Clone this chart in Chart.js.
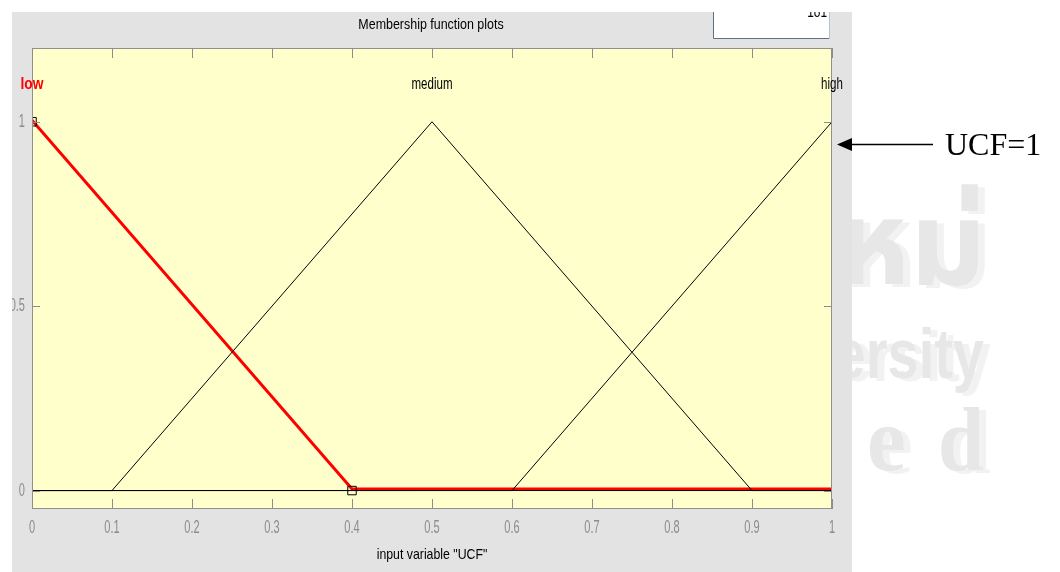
<!DOCTYPE html>
<html>
<head>
<meta charset="utf-8">
<script src="https://cdn.jsdelivr.net/npm/chart.js@4.4.1/dist/chart.umd.min.js"></script>
<style>
  html, body { margin: 0; padding: 0; background: #ffffff; overflow: hidden; }
  #wrap { width: 1060px; height: 572px; position: relative; }
</style>
</head>
<body>
<div id="wrap"><canvas id="c" width="1060" height="572"></canvas></div>
<script>
// Membership functions of the input variable "UCF"
const mfNames = ['low', 'medium', 'high'];
const mfPeaks = [0, 0.5, 1];
const lowX = [0, 0.4, 1];
const lowY = [1, 0, 0];
const mediumX = [0, 0.1, 0.5, 0.9, 1];
const mediumY = [0, 0, 1, 0, 0];
const highX = [0, 0.6, 1];
const highY = [0, 0, 1];
// zero reference line across the range
const baseX = [0, 1];
const baseY = [0, 0];
// vertex handles of the selected function ("low")
const handleX = [0, 0.4];
const handleY = [1, 0];

const xTicks = [0, 0.1, 0.2, 0.3, 0.4, 0.5, 0.6, 0.7, 0.8, 0.9, 1];
const xTickLabels = ['0', '0.1', '0.2', '0.3', '0.4', '0.5', '0.6', '0.7', '0.8', '0.9', '1'];
const yTicks = [0, 0.5, 1];
const yTickLabels = ['0', '0.5', '1'];

const chartTitle = 'Membership function plots';
const axisTitle = 'input variable "UCF"';
const plotPoints = '181';
const noteText = 'UCF=1';
const noteLevel = 0.94;

const UI_FONT = '"Liberation Sans", Arial, sans-serif';
const PANEL = '#e3e3e3';
const AXES_BG = '#ffffcc';
const TICK_GRAY = '#8c8c8c';
const TICK_SQUEEZE = 0.58;
const TEXT_SQUEEZE = 0.82;

const zip = (xs, ys) => xs.map((x, i) => ({ x: x, y: ys[i] }));
const rawFillText = CanvasRenderingContext2D.prototype.fillText;

// text drawn with a horizontal squeeze around its anchor (narrow UI lettering)
function narrowText(ctx, text, x, y, sx) {
  ctx.save();
  ctx.translate(x, y);
  ctx.scale(sx, 1);
  rawFillText.call(ctx, text, 0, 0);
  ctx.restore();
}

const backdrop = {
  id: 'backdrop',
  beforeDraw(chart) {
    const ctx = chart.ctx;
    const a = chart.chartArea;
    ctx.save();
    ctx.fillStyle = '#ffffff';
    ctx.fillRect(0, 0, chart.width, chart.height);

    // faint watermark lettering to the right of the window
    ctx.textBaseline = 'alphabetic';
    const wm = (txt, font, x, y, align, sx) => {
      ctx.font = font;
      ctx.textAlign = align;
      ctx.fillStyle = '#f2f2f2';
      narrowText(ctx, txt, x + 7, y + 3, sx);
      ctx.fillStyle = '#e7e7e7';
      narrowText(ctx, txt, x, y, sx);
    };
    wm('ใหม่', 'bold 118px "Noto Sans Thai", "Loma", "Garuda", "Norasi", "Tlwg Typo", sans-serif', 986, 284, 'right', 1);
    wm('ersity', 'bold 70px "Liberation Sans", Arial, sans-serif', 984, 378, 'right', 0.8);
    wm('e', 'bold 92px "Liberation Serif", "Times New Roman", serif', 867, 470, 'left', 0.95);
    wm('d', 'bold 92px "Liberation Serif", "Times New Roman", serif', 938, 470, 'left', 0.9);

    // window panel and axes background
    ctx.fillStyle = PANEL;
    ctx.fillRect(12, 12, 840, chart.height - 12);
    ctx.fillStyle = AXES_BG;
    ctx.fillRect(a.left, a.top, a.right - a.left, a.bottom - a.top);

    // plot-points edit box
    ctx.fillStyle = '#ffffff';
    ctx.fillRect(713, 12, 117, 27);
    ctx.fillStyle = '#000000';
    ctx.font = '17px ' + UI_FONT;
    ctx.textAlign = 'right';
    narrowText(ctx, plotPoints, 827, 17, 0.7);
    ctx.lineWidth = 1;
    ctx.strokeStyle = '#b4c3d2';
    ctx.beginPath(); ctx.moveTo(829.5, 12); ctx.lineTo(829.5, 39); ctx.stroke();
    ctx.strokeStyle = '#5d7085';
    ctx.beginPath(); ctx.moveTo(713.5, 12); ctx.lineTo(713.5, 38.5); ctx.lineTo(829, 38.5); ctx.stroke();
    ctx.restore();

    // axis labels are drawn in the same narrow lettering
    const labels = new Set(xTickLabels.concat(yTickLabels));
    ctx.fillText = function (t, x, y) {
      narrowText(this, t, x, y, labels.has(t) ? TICK_SQUEEZE : TEXT_SQUEEZE);
    };
  },
  beforeDatasetsDraw(chart) {
    delete chart.ctx.fillText;
  },
  beforeDatasetDraw(chart, args) {
    // the selected curve sits just above the zero line
    if (args.index === 0) { chart.ctx.save(); chart.ctx.translate(0, -1.5); }
  },
  afterDatasetDraw(chart, args) {
    if (args.index === 0) chart.ctx.restore();
  },
  afterDraw(chart) {
    const ctx = chart.ctx;
    const a = chart.chartArea;
    const xs = chart.scales.x;
    const ys = chart.scales.y;
    ctx.save();

    // axes box
    ctx.strokeStyle = '#909090';
    ctx.lineWidth = 1;
    ctx.strokeRect(Math.round(a.left) + 0.5, Math.round(a.top) + 0.5,
      Math.round(a.right - a.left) - 1, Math.round(a.bottom - a.top) - 1);

    // inward tick marks on all four sides
    ctx.strokeStyle = TICK_GRAY;
    ctx.beginPath();
    xTicks.forEach(v => {
      const px = Math.round(xs.getPixelForValue(v)) + 0.5;
      ctx.moveTo(px, a.top); ctx.lineTo(px, a.top + 10);
      ctx.moveTo(px, a.bottom); ctx.lineTo(px, a.bottom - 10);
    });
    yTicks.forEach(v => {
      const py = Math.round(ys.getPixelForValue(v)) + 0.5;
      ctx.moveTo(a.left, py); ctx.lineTo(a.left + 8, py);
      ctx.moveTo(a.right, py); ctx.lineTo(a.right - 8, py);
    });
    ctx.stroke();

    // membership function names above each peak
    ctx.textAlign = 'center';
    ctx.textBaseline = 'middle';
    mfNames.forEach((name, i) => {
      const selected = i === 0;
      ctx.font = (selected ? 'bold ' : '') + '16px ' + UI_FONT;
      ctx.fillStyle = selected ? '#ff0000' : '#000000';
      narrowText(ctx, name, xs.getPixelForValue(mfPeaks[i]), ys.getPixelForValue(1.1), selected ? 0.86 : 0.72);
    });

    // panel heading
    ctx.font = '15px ' + UI_FONT;
    ctx.fillStyle = '#000000';
    narrowText(ctx, chartTitle, 431, 25, 0.83);

    // window edges
    ctx.fillStyle = '#ffffff';
    ctx.fillRect(0, 0, chart.width, 12);
    ctx.fillRect(0, 0, 12, chart.height);

    // arrow and note to the right of the window
    const ay = Math.round(ys.getPixelForValue(noteLevel)) + 0.5;
    const tip = a.right + 5;
    ctx.strokeStyle = '#000000';
    ctx.fillStyle = '#000000';
    ctx.lineWidth = 1.3;
    ctx.beginPath(); ctx.moveTo(tip + 10, ay); ctx.lineTo(933, ay); ctx.stroke();
    ctx.beginPath();
    ctx.moveTo(tip, ay); ctx.lineTo(tip + 15, ay - 6.5); ctx.lineTo(tip + 15, ay + 6.5);
    ctx.closePath(); ctx.fill();
    ctx.font = '32px "Liberation Serif", "Times New Roman", serif';
    ctx.textAlign = 'left';
    ctx.textBaseline = 'alphabetic';
    ctx.fillText(noteText, 945, ay + 10);
    ctx.restore();
  }
};

new Chart(document.getElementById('c'), {
  type: 'line',
  data: {
    datasets: [
      { label: 'low', data: zip(lowX, lowY), borderColor: '#ff0000', borderWidth: 3, order: 4 },
      { label: 'zero', data: zip(baseX, baseY), borderColor: '#000000', borderWidth: 1, order: 3 },
      { label: 'medium', data: zip(mediumX, mediumY), borderColor: '#000000', borderWidth: 1, order: 2 },
      { label: 'high', data: zip(highX, highY), borderColor: '#000000', borderWidth: 1, order: 2 },
      {
        label: 'vertices', data: zip(handleX, handleY), showLine: false,
        pointStyle: 'rect', pointRadius: 6, pointBorderWidth: 1,
        pointBorderColor: '#000000', pointBackgroundColor: 'rgba(0,0,0,0)',
        order: 1, clip: 0
      }
    ]
  },
  options: {
    responsive: false,
    devicePixelRatio: 1,
    animation: false,
    events: [],
    elements: { point: { radius: 0 }, line: { tension: 0 } },
    layout: { padding: { left: 12, top: 48, right: 228, bottom: 0 } },
    plugins: { legend: { display: false }, tooltip: { enabled: false }, title: { display: false } },
    scales: {
      x: {
        type: 'linear', min: 0, max: 1,
        afterBuildTicks: s => { s.ticks = xTicks.map(v => ({ value: v })); },
        afterFit: s => { s.height = 63; },
        grid: { display: false, drawTicks: false },
        border: { display: false },
        ticks: {
          padding: 7, maxRotation: 0, autoSkip: false, color: TICK_GRAY,
          font: { family: UI_FONT, size: 19 },
          callback: v => xTickLabels[xTicks.indexOf(v)]
        },
        title: {
          display: true, text: axisTitle, color: '#000000',
          font: { family: UI_FONT, size: 15 }, padding: { top: 0, bottom: 8 }
        }
      },
      y: {
        type: 'linear', min: -0.05, max: 1.2,
        afterBuildTicks: s => { s.ticks = yTicks.map(v => ({ value: v })); },
        afterFit: s => { s.width = 20; },
        grid: { display: false, drawTicks: false },
        border: { display: false },
        ticks: {
          padding: 7, color: TICK_GRAY,
          font: { family: UI_FONT, size: 19 },
          callback: v => yTickLabels[yTicks.indexOf(v)]
        }
      }
    }
  },
  plugins: [backdrop]
});
</script>
</body>
</html>
